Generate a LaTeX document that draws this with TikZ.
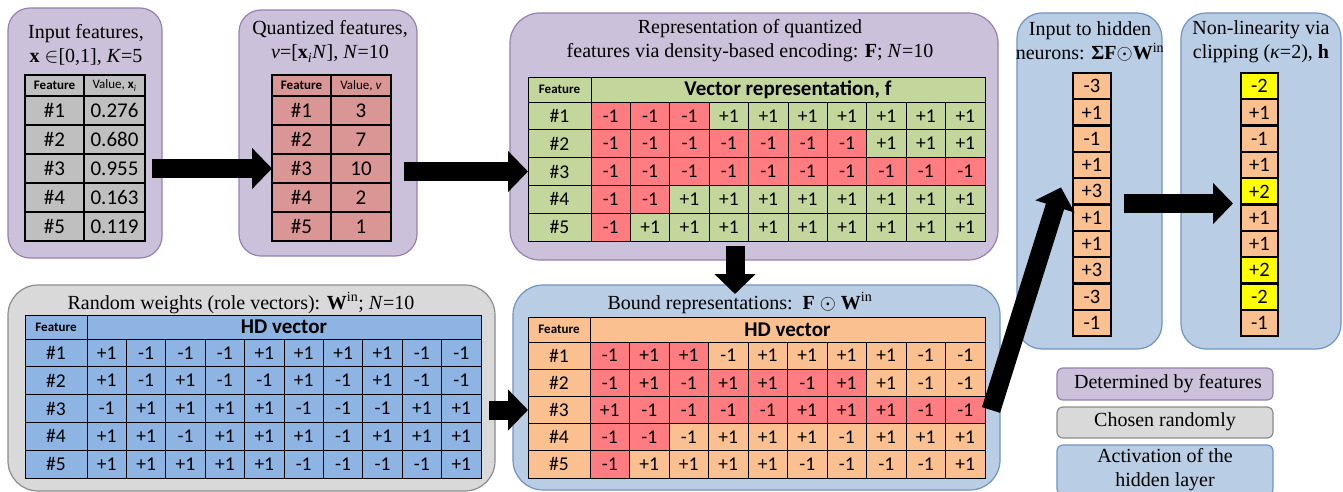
\documentclass[tikz,border=0pt]{standalone}
\usepackage{fontspec}
\setmainfont{Liberation Serif}
\newfontfamily\tabfont{Carlito}
\usetikzlibrary{arrows.meta,calc}
\definecolor{purpfill}{HTML}{CCC1DA}
\definecolor{purpdraw}{HTML}{9680B4}
\definecolor{grayfill}{HTML}{D9D9D9}
\definecolor{graydraw}{HTML}{8C8C8C}
\definecolor{bluefill}{HTML}{B9CDE5}
\definecolor{bluedraw}{HTML}{7094C4}
\definecolor{incell}{HTML}{BFBFBF}
\definecolor{qcell}{HTML}{DA9694}
\definecolor{greencell}{HTML}{C3D69B}
\definecolor{redcell}{HTML}{FF7C80}
\definecolor{wcell}{HTML}{8DB4E2}
\definecolor{orcell}{HTML}{FAC090}
\definecolor{yecell}{HTML}{FFFF00}
\newcommand\boxnode[7]{\node[#6,minimum width={(#4)-(#2)},minimum height={(#5)-(#3)}] (#1) at ({((#2)+(#4))/2},{((#3)+(#5))/2}) {#7};}
\begin{document}
\begin{tikzpicture}[x=1pt,y=-1pt,
  panelbase/.style={inner sep=0pt,outer sep=0pt,line width=1.2pt},
  ppanel/.style={panelbase,draw=purpdraw,fill=purpfill},
  gpanel/.style={panelbase,draw=graydraw,fill=grayfill},
  bpanel/.style={panelbase,draw=bluedraw,fill=bluefill},
  title/.style={font=\fontsize{20}{24}\selectfont,align=center,inner sep=0pt},
  cellbase/.style={draw=black,inner sep=0pt,outer sep=0pt,font=\tabfont\fontsize{19.5}{20}\selectfont},
  bigval/.style={font=\tabfont\fontsize{21}{22}\selectfont},
  colval/.style={font=\tabfont\fontsize{20.5}{22}\selectfont},
  tkcell/.style={cellbase,line width=2.2pt},
  tncell/.style={cellbase,line width=0.9pt},
  hdr/.style={font=\tabfont\bfseries\fontsize{13}{14}\selectfont},
  hdrn/.style={font=\tabfont\fontsize{13}{14}\selectfont},
  bighdr/.style={font=\tabfont\bfseries\fontsize{21}{22}\selectfont},
  bigarrow/.style={line width=19pt,-{Triangle[length=20pt,width=40pt]}},
]
\useasboundingbox (0,0) rectangle (1343,492);
% ---------- panels
\boxnode{p1}{8}{8}{162}{258}{ppanel,rounded corners=22pt}{}
\boxnode{p2}{239}{10}{417}{256}{ppanel,rounded corners=22pt}{}
\boxnode{p3}{510}{13}{998}{260}{ppanel,rounded corners=30pt}{}
\boxnode{p4}{8}{285}{495}{491}{gpanel,rounded corners=30pt}{}
\boxnode{p5}{513}{285}{1000}{490}{bpanel,rounded corners=30pt}{}
\boxnode{p6}{1017}{13}{1162}{349}{bpanel,rounded corners=25pt}{}
\boxnode{p7}{1181}{13}{1341}{349}{bpanel,rounded corners=25pt}{}
% ---------- titles
\node[title] (t1) at (86,44.5) {Input features,\\\textbf{x} $\in$[0,1], \textit{K}=5};
\node[title] (t2) at (330,41.5) {Quantized features,\\\textit{v}=[\textbf{x}\textsubscript{\textit{i}}\textit{N}], \textit{N}=10};
\node[title] (t3) at (750,41) {Representation of quantized\\features via density-based encoding: \textbf{F}; \textit{N}=10};
\node[title] (t4) at (241,303) {Random weights (role vectors): \textbf{W}\textsuperscript{in}; \textit{N}=10};
\node[title] (t5) at (740,303) {Bound representations:~~\textbf{F} $\odot$ \textbf{W}\textsuperscript{in}};
\node[title] (t6) at (1090,41.5) {Input to hidden\\neurons: \textbf{Σ}\textbf{F}$\odot$\textbf{W}\textsuperscript{in}};
\node[title] (t7) at (1261,41.5) {Non-linearity via\\clipping (\textit{κ}=2), \textbf{h}};
% ---------- input table
\boxnode{in-0-1}{25}{75}{84}{96}{tkcell,fill=incell,hdr}{Feature}
\boxnode{in-0-2}{84}{75}{145}{96}{tkcell,fill=incell,hdrn}{Value, \textbf{x}\textsubscript{\textit{i}}}
\foreach \r/\val in {1/0.276,2/0.680,3/0.955,4/0.163,5/0.119}{
  \pgfmathsetmacro\ya{96+29*(\r-1)}\pgfmathsetmacro\yb{\ya+29}
  \boxnode{in-\r-1}{25}{\ya}{84}{\yb}{tkcell,fill=incell,bigval}{\#\r}
  \boxnode{in-\r-2}{84}{\ya}{145}{\yb}{tkcell,fill=incell,bigval}{\val}
}
% ---------- quantized table
\boxnode{q-0-1}{272}{75}{331}{96}{tkcell,fill=qcell,hdr}{Feature}
\boxnode{q-0-2}{331}{75}{391}{96}{tkcell,fill=qcell,hdrn}{Value, \textit{v}}
\foreach \r/\val in {1/3,2/7,3/10,4/2,5/1}{
  \pgfmathsetmacro\ya{96+29*(\r-1)}\pgfmathsetmacro\yb{\ya+29}
  \boxnode{q-\r-1}{272}{\ya}{331}{\yb}{tkcell,fill=qcell,bigval}{\#\r}
  \boxnode{q-\r-2}{331}{\ya}{391}{\yb}{tkcell,fill=qcell,bigval}{\val}
}
% ---------- density table
\boxnode{d-0-0}{528}{77}{591}{102}{tncell,fill=greencell,hdr}{Feature}
\boxnode{d-0-1}{591}{77}{985}{102}{tncell,fill=greencell,bighdr}{Vector representation, f}
\foreach \r/\v in {1/3,2/7,3/10,4/2,5/1}{
  \pgfmathsetmacro\ya{102+27.8*(\r-1)}\pgfmathsetmacro\yb{\ya+27.8}
  \boxnode{d-\r-0}{528}{\ya}{591}{\yb}{tncell,fill=greencell}{\#\r}
  \foreach \c in {1,...,10}{
    \pgfmathsetmacro\xa{591+39.4*(\c-1)}\pgfmathsetmacro\xb{\xa+39.4}
    \ifnum\c>\v\relax\def\cf{greencell}\def\ct{+1}\else\def\cf{redcell}\def\ct{-1}\fi
    \boxnode{d-\r-\c}{\xa}{\ya}{\xb}{\yb}{tncell,fill=\cf}{\ct}
  }
}
% ---------- weights table
\boxnode{w-0-0}{25}{315}{87}{339}{tncell,fill=wcell,hdr}{Feature}
\boxnode{w-0-1}{87}{315}{481}{339}{tncell,fill=wcell,bighdr}{HD vector}
\foreach \r/\vals in {1/{+1,-1,-1,-1,+1,+1,+1,+1,-1,-1},2/{+1,-1,+1,-1,-1,+1,-1,+1,-1,-1},3/{-1,+1,+1,+1,+1,-1,-1,-1,+1,+1},4/{+1,+1,-1,+1,+1,+1,-1,+1,+1,+1},5/{+1,+1,+1,+1,+1,-1,-1,-1,-1,+1}}{
  \pgfmathsetmacro\ya{339+27.8*(\r-1)}\pgfmathsetmacro\yb{\ya+27.8}
  \boxnode{w-\r-0}{25}{\ya}{87}{\yb}{tncell,fill=wcell}{\#\r}
  \foreach \t [count=\c] in \vals{
    \pgfmathsetmacro\xa{87+39.4*(\c-1)}\pgfmathsetmacro\xb{\xa+39.4}
    \boxnode{w-\r-\c}{\xa}{\ya}{\xb}{\yb}{tncell,fill=wcell}{\t}
  }
}
% ---------- bound table
\boxnode{b-0-0}{528}{317}{590}{342}{tncell,fill=orcell,hdr}{Feature}
\boxnode{b-0-1}{590}{317}{985}{342}{tncell,fill=orcell,bighdr}{HD vector}
\foreach \r/\v/\vals in {1/3/{-1,+1,+1,-1,+1,+1,+1,+1,-1,-1},2/7/{-1,+1,-1,+1,+1,-1,+1,+1,-1,-1},3/10/{+1,-1,-1,-1,-1,+1,+1,+1,-1,-1},4/2/{-1,-1,-1,+1,+1,+1,-1,+1,+1,+1},5/1/{-1,+1,+1,+1,+1,-1,-1,-1,-1,+1}}{
  \pgfmathsetmacro\ya{342+27.2*(\r-1)}\pgfmathsetmacro\yb{\ya+27.2}
  \boxnode{b-\r-0}{528}{\ya}{590}{\yb}{tncell,fill=orcell}{\#\r}
  \foreach \t [count=\c] in \vals{
    \pgfmathsetmacro\xa{590+39.5*(\c-1)}\pgfmathsetmacro\xb{\xa+39.5}
    \ifnum\c>\v\relax\def\cf{orcell}\else\def\cf{redcell}\fi
    \boxnode{b-\r-\c}{\xa}{\ya}{\xb}{\yb}{tncell,fill=\cf}{\t}
  }
}
% ---------- hidden columns
\foreach \t [count=\k] in {-3,+1,-1,+1,+3,+1,+1,+3,-3,-1}{
  \pgfmathsetmacro\ya{73+26.3*(\k-1)}\pgfmathsetmacro\yb{\ya+26.3}
  \boxnode{h-\k}{1073}{\ya}{1111}{\yb}{tkcell,fill=orcell,colval}{\t}
}
\foreach \t/\cf [count=\k] in {-2/yecell,+1/orcell,-1/orcell,+1/orcell,+2/yecell,+1/orcell,+1/orcell,+2/yecell,-2/yecell,-1/orcell}{
  \pgfmathsetmacro\ya{73+26.3*(\k-1)}\pgfmathsetmacro\yb{\ya+26.3}
  \boxnode{c-\k}{1241}{\ya}{1278}{\yb}{tkcell,fill=\cf,colval}{\t}
}
% ---------- legend
\boxnode{l1}{1057}{368}{1273}{400}{ppanel,rounded corners=6pt}{}
\boxnode{l2}{1057}{407}{1273}{438}{gpanel,rounded corners=6pt}{}
\boxnode{l3}{1057}{445}{1273}{495}{bpanel,rounded corners=6pt}{}
\node[title] (lt1) at (1168,384) {Determined by features};
\node[title] (lt2) at (1165,422) {Chosen randomly};
\node[title] (lt3) at (1165,470) {Activation of the\\hidden layer};
% ---------- arrows
\draw[bigarrow] ([xshift=7pt]in-3-2.east) -- (q-3-1.west);
\draw[bigarrow] ($(q-3-2.east |- d-3-0.west)+(13,0)$) -- (d-3-0.west);
\draw[bigarrow] ($(p3.south west)+(225,-14)$) -- ($(p5.north west)+(222,9)$);
\draw[bigarrow] ($(w-3-10.east |- b-3-0.west)+(8,0)$) -- (b-3-0.west);
\draw[bigarrow] ($(b-3-10.east)+(6,0)$) -- ($(h-5.west)+(-12,-4)$);
\draw[bigarrow] ($(h-5.south east)+(13,-1)$) -- ($(c-5.south west)+(-8,-1)$);
\end{tikzpicture}
\end{document}
